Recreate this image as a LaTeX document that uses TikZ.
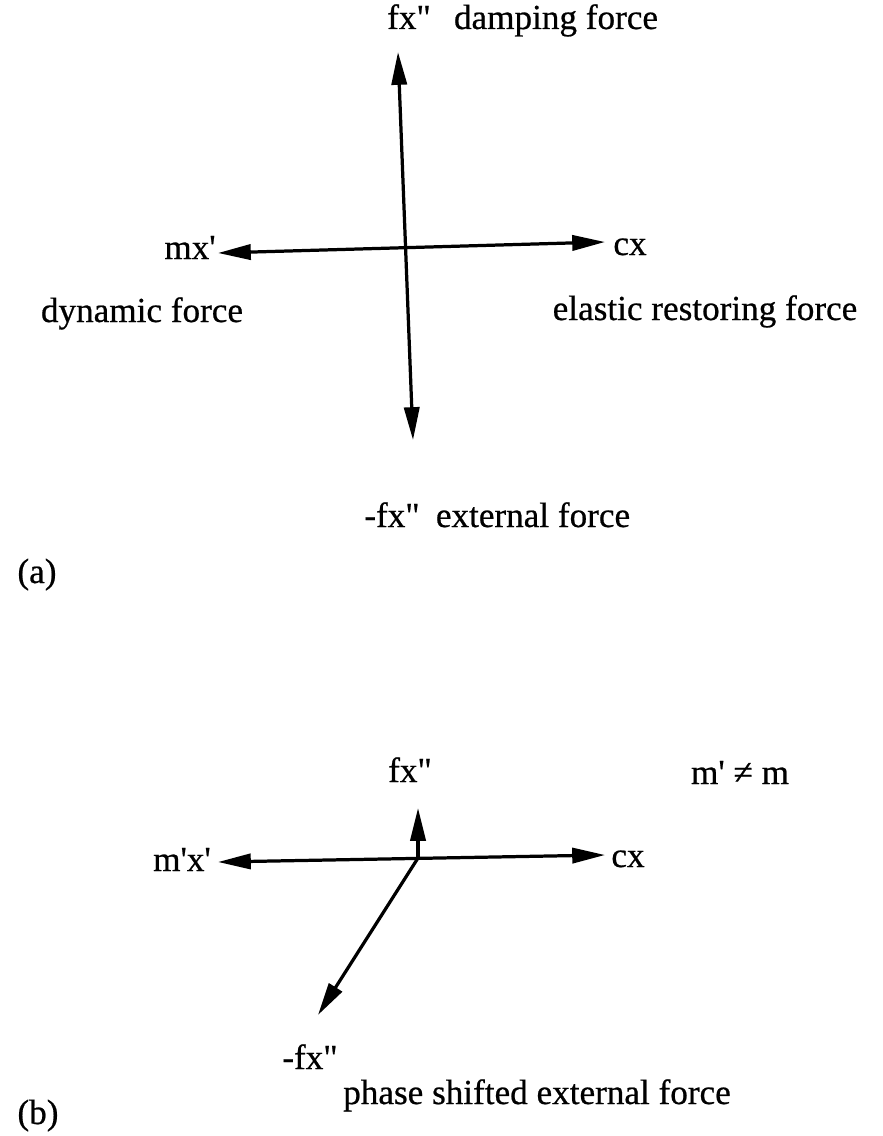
\documentclass[tikz,border=0pt]{standalone}
\usepackage{fontspec}
\newfontfamily\labfont[FakeBold=0.6]{Liberation Serif}
\usetikzlibrary{arrows.meta}

\begin{document}
\begin{tikzpicture}[
    x=0.025cm, y=-0.025cm,
    >={Triangle[length=0.82cm, width=0.38cm]},
    % Force vectors
    vec/.style={line width=2.3pt, black},
    % Labels
    lab/.style={font=\labfont\fontsize{25}{29}\selectfont, anchor=base, inner sep=0pt},
]
\useasboundingbox (0,0) rectangle (882,1136);

% ===== PART (a) =====
\coordinate (a_up)    at (398, 52);
\coordinate (a_down)  at (413, 440);
\coordinate (a_left)  at (218, 253);
\coordinate (a_right) at (605, 242);

\draw[vec, <->] (a_down) -- (a_up);
\draw[vec, <->] (a_left) -- (a_right);

\node[lab] (a_fx)   at (409, 29)  {fx"};
\node[lab] (a_damp) at (556, 29)  {damping force};
\node[lab] (a_mx)   at (190, 259) {mx'};
\node[lab] (a_cx)   at (630, 255) {cx};
\node[lab] (a_dyn)  at (142, 322) {dynamic force};
\node[lab] (a_el)   at (705, 320) {elastic restoring force};
\node[lab] (a_mfx)  at (392, 527) {-fx"};
\node[lab] (a_ext)  at (533, 527) {external force};
\node[lab] (a_tag)  at (37, 583)  {(a)};

% ===== PART (b) =====
\coordinate (b_o)     at (418, 858);
\coordinate (b_up)    at (418, 808);
\coordinate (b_left)  at (218, 862);
\coordinate (b_right) at (605, 855);
\coordinate (b_diag)  at (318, 1015);

\draw[vec, ->] (b_o) -- (b_up);
\draw[vec, <->] (b_left) -- (b_right);
\draw[vec, ->] (b_o) -- (b_diag);

\node[lab] (b_fx)   at (410, 782)  {fx"};
\node[lab] (b_neq)  at (740, 784)  {m' ≠ m};
\node[lab] (b_mx)   at (182, 871)  {m'x'};
\node[lab] (b_cx)   at (628, 867)  {cx};
\node[lab] (b_mfx)  at (310, 1069) {-fx"};
\node[lab] (b_ext)  at (537, 1104) {phase shifted external force};
\node[lab] (b_tag)  at (38, 1124)  {(b)};

\end{tikzpicture}
\end{document}
